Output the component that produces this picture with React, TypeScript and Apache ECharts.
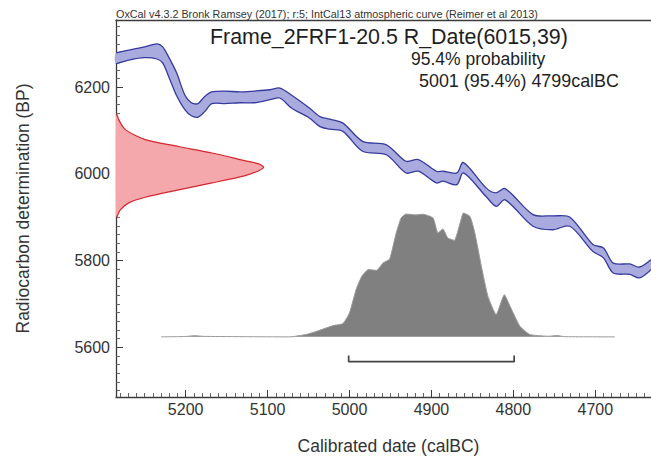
import React, { useEffect, useRef } from "react";
import * as echarts from "echarts";

// ---------- texts ----------
const headerText =
  "OxCal v4.3.2 Bronk Ramsey (2017); r:5; IntCal13 atmospheric curve (Reimer et al 2013)";
const titleText = "Frame_2FRF1-20.5 R_Date(6015,39)";
const probText = "95.4% probability";
const rangeText = "5001 (95.4%) 4799calBC";
const xName = "Calibrated date (calBC)";
const yName = "Radiocarbon determination (BP)";

// ---------- data ----------
// calibration curve (IntCal13) band: calendar year BC, upper / lower BP
const curveYears = [
  5285, 5268, 5250, 5235, 5228, 5220, 5211, 5201, 5193, 5185, 5177, 5168, 5152,
  5134, 5116, 5097, 5085, 5071, 5049, 5036, 5024, 5008, 4984, 4955, 4931, 4916,
  4894, 4886, 4869, 4861, 4833, 4821, 4810, 4776, 4752, 4731, 4703, 4690, 4678,
  4658, 4646, 4632,
];
const curveUpper = [
  6279, 6286, 6293, 6300, 6293, 6267, 6233, 6182, 6164, 6162, 6178, 6189, 6191,
  6189, 6191, 6194, 6198, 6182, 6152, 6132, 6126, 6117, 6075, 6067, 6029, 6033,
  6006, 6006, 6002, 6026, 5967, 5956, 5966, 5906, 5903, 5900, 5837, 5829, 5794,
  5792, 5785, 5802,
];
const curveLower = [
  6254, 6263, 6268, 6265, 6256, 6221, 6180, 6148, 6134, 6131, 6143, 6162, 6162,
  6164, 6164, 6171, 6175, 6152, 6129, 6109, 6103, 6098, 6052, 6044, 6002, 6006,
  5979, 5983, 5975, 6002, 5947, 5925, 5940, 5879, 5871, 5879, 5821, 5806, 5771,
  5768, 5760, 5779,
];

// radiocarbon measurement R_Date(6015,39): BP and relative density
const measBP = [
  6136, 6125, 6102, 6079, 6063, 6048, 6030, 6023, 6015, 6007, 5996, 5979, 5963,
  5946, 5933, 5917, 5902,
];
const measDensity = [
  0.007, 0.018, 0.063, 0.198, 0.424, 0.65, 0.875, 0.966, 1.0, 0.966, 0.875,
  0.65, 0.424, 0.198, 0.086, 0.029, 0.007,
];

// calibrated probability distribution: year BC and relative probability
const calYears = [
  5230, 5200, 5189, 5178, 5073, 5053, 5040, 5020, 5008, 5000, 4992, 4985, 4977,
  4967, 4959, 4951, 4943, 4937, 4931, 4920, 4910, 4898, 4892, 4886, 4880, 4872,
  4865, 4861, 4853, 4847, 4839, 4831, 4821, 4811, 4804, 4792, 4780, 4765, 4756,
  4747, 4738, 4676,
];
const calProb = [
  0, 0.003, 0.01, 0.004, 0, 0.019, 0.045, 0.091, 0.107, 0.194, 0.381, 0.489,
  0.543, 0.537, 0.597, 0.629, 0.839, 0.96, 0.992, 0.985, 0.99, 0.96, 0.839,
  0.871, 0.798, 0.779, 0.919, 1.0, 0.973, 0.839, 0.569, 0.327, 0.18, 0.341,
  0.247, 0.085, 0.019, 0.008, 0.005, 0.012, 0.002, 0,
];

// 95.4% range
const range95 = [5001, 4799];

// ---------- layout ----------
const X_MIN = 4632;
const X_MAX = 5285;
const Y_MIN = 5485;
const Y_MAX = 6355;
const PROB_MIN = -0.4855;
const PROB_MAX = 2.5586;
const DENS_MAX = 3.622;
const BRACKET_BAR = -0.2;
const BRACKET_TIP = -0.151;
const FONT = "'Liberation Sans', Arial, Helvetica, sans-serif";

export default function App() {
  const ref = useRef<HTMLDivElement>(null);

  useEffect(() => {
    if (!ref.current) return;
    const chart = echarts.init(ref.current, undefined, { renderer: "svg" });

    const axisColor = "#3c3c3c";
    const labelFmt = (v: number) => (v % 100 === 0 ? String(v) : "");

    const option: any = {
      animation: false,
      backgroundColor: "#ffffff",
      textStyle: { fontFamily: FONT },
      grid: { left: 116, top: 20, right: 0, bottom: 62.5, containLabel: false },
      xAxis: [
        {
          type: "value",
          min: X_MIN,
          max: X_MAX,
          inverse: true,
          splitNumber: 6,
          position: "bottom",
          name: xName,
          nameLocation: "middle",
          nameGap: 40,
          nameTextStyle: { fontSize: 17.5, color: "#333", fontFamily: FONT, padding: [0, 0, 0, 10] },
          axisLine: { show: true, onZero: false, lineStyle: { color: axisColor, width: 1.3 } },
          axisTick: { show: true, inside: true, length: 7, lineStyle: { color: axisColor, width: 1 } },
          minorTick: { show: true, splitNumber: 10, length: 4, lineStyle: { color: "#555", width: 0.9 } },
          axisLabel: {
            formatter: labelFmt,
            fontSize: 16,
            color: "#333",
            margin: 4,
            fontFamily: FONT,
            showMinLabel: false,
            showMaxLabel: false,
          },
          splitLine: { show: false },
        },
        {
          type: "value",
          min: X_MIN,
          max: X_MAX,
          inverse: true,
          position: "top",
          axisLine: { show: true, onZero: false, lineStyle: { color: axisColor, width: 1.3 } },
          axisTick: { show: false },
          axisLabel: { show: false },
          splitLine: { show: false },
        },
        {
          type: "value",
          show: false,
          min: 0,
          max: DENS_MAX,
          position: "top",
          axisLine: { onZero: false },
          splitLine: { show: false },
        },
      ],
      yAxis: [
        {
          type: "value",
          min: Y_MIN,
          max: Y_MAX,
          splitNumber: 4,
          position: "left",
          name: yName,
          nameLocation: "middle",
          nameRotate: 90,
          nameGap: 84,
          nameTextStyle: { fontSize: 17.5, color: "#333", fontFamily: FONT },
          axisLine: { show: true, onZero: false, lineStyle: { color: axisColor, width: 1.3 } },
          axisTick: { show: true, inside: true, length: 7, lineStyle: { color: axisColor, width: 1 } },
          minorTick: { show: true, splitNumber: 10, length: 4, lineStyle: { color: "#555", width: 0.9 } },
          axisLabel: {
            formatter: labelFmt,
            fontSize: 16,
            color: "#333",
            margin: 6,
            fontFamily: FONT,
            showMinLabel: false,
            showMaxLabel: false,
          },
          splitLine: { show: false },
        },
        {
          type: "value",
          show: false,
          min: PROB_MIN,
          max: PROB_MAX,
          position: "right",
          axisLine: { onZero: false },
          splitLine: { show: false },
        },
      ],
      series: [
        {
          name: "calibrated",
          type: "line",
          xAxisIndex: 0,
          yAxisIndex: 1,
          data: calYears.map((y, i) => [y, calProb[i]]),
          symbol: "none",
          showSymbol: false,
          smooth: 0.15,
          lineStyle: { color: "#9a9a9a", width: 1 },
          areaStyle: { color: "#808080", opacity: 1 },
          z: 2,
        },
        {
          name: "curve",
          type: "custom",
          xAxisIndex: 0,
          yAxisIndex: 0,
          data: [[curveYears[0], curveUpper[0]]],
          renderItem: (params: any, api: any) => {
            if (params.dataIndex !== 0) return null;
            const up = curveYears.map((y, i) => api.coord([y, curveUpper[i]]));
            const lo = curveYears.map((y, i) => api.coord([y, curveLower[i]]));
            const sm = 0.3;
            return {
              type: "group",
              children: [
                {
                  type: "polygon",
                  shape: { points: up.concat(lo.slice().reverse()), smooth: sm },
                  style: { fill: "#a9abdf", stroke: null },
                },
                {
                  type: "polyline",
                  shape: { points: up, smooth: sm },
                  style: { stroke: "#353a9c", lineWidth: 1.3, fill: null },
                },
                {
                  type: "polyline",
                  shape: { points: lo, smooth: sm },
                  style: { stroke: "#353a9c", lineWidth: 1.3, fill: null },
                },
              ],
            };
          },
          z: 3,
        },
        {
          name: "measurement",
          type: "custom",
          xAxisIndex: 2,
          yAxisIndex: 0,
          data: [[0, measBP[0]]],
          renderItem: (params: any, api: any) => {
            if (params.dataIndex !== 0) return null;
            const curve = measBP.map((b, i) => api.coord([measDensity[i], b]));
            const start = api.coord([0, measBP[0]]);
            const end = api.coord([0, measBP[measBP.length - 1]]);
            return {
              type: "group",
              children: [
                {
                  type: "polygon",
                  shape: { points: [start, ...curve, end], smooth: 0.25 },
                  style: { fill: "#f5a8ac", stroke: null },
                },
                {
                  type: "polyline",
                  shape: { points: [start, ...curve, end], smooth: 0.25 },
                  style: { stroke: "#d3262f", lineWidth: 1.2, fill: null },
                },
              ],
            };
          },
          z: 1,
        },
        {
          name: "range",
          type: "line",
          xAxisIndex: 0,
          yAxisIndex: 1,
          data: [
            [range95[0], BRACKET_TIP],
            [range95[0], BRACKET_BAR],
            [range95[1], BRACKET_BAR],
            [range95[1], BRACKET_TIP],
          ],
          symbol: "none",
          showSymbol: false,
          lineStyle: { color: "#444", width: 1.7 },
          z: 4,
        },
      ],
      graphic: [
        {
          type: "text",
          x: 116,
          y: 14,
          style: {
            text: headerText,
            fontSize: 10.8,
            fontFamily: FONT,
            fill: "#333",
            align: "left",
            verticalAlign: "middle",
          },
        },
        {
          type: "text",
          x: 210,
          y: 37,
          style: {
            text: titleText,
            fontSize: 21.4,
            fontFamily: FONT,
            fill: "#1e1e1e",
            align: "left",
            verticalAlign: "middle",
          },
        },
        {
          type: "text",
          x: 411,
          y: 59,
          style: {
            text: probText,
            fontSize: 17.5,
            fontFamily: FONT,
            fill: "#1e1e1e",
            align: "left",
            verticalAlign: "middle",
          },
        },
        {
          type: "text",
          x: 419,
          y: 81,
          style: {
            text: rangeText,
            fontSize: 17.9,
            fontFamily: FONT,
            fill: "#1e1e1e",
            align: "left",
            verticalAlign: "middle",
          },
        },
      ],
    };

    chart.setOption(option);
    return () => {
      chart.dispose();
    };
  }, []);

  return (
    <div
      ref={ref}
      style={{ position: "fixed", left: 0, top: 0, width: 651, height: 460, background: "#fff" }}
    />
  );
}
